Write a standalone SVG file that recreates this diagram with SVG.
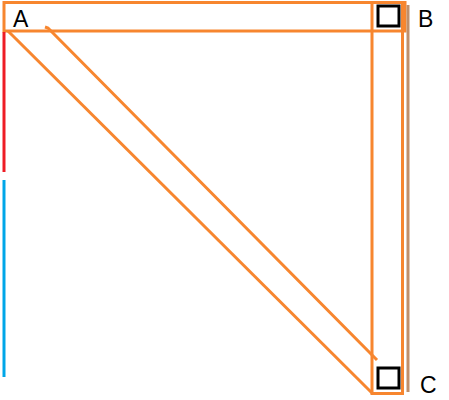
<svg xmlns="http://www.w3.org/2000/svg" width="449" height="400" viewBox="0 0 449 400">
<style>
.o{fill:none;stroke:#F7862F;stroke-width:3}
.sq{fill:none;stroke:#000;stroke-width:3}
.t{font-family:"Liberation Sans",Arial,sans-serif;font-size:23px;fill:#000}
</style>
<rect width="449" height="400" fill="#fff"/>
<g id="connectors">
<rect class="o" x="4" y="2.5" width="401" height="28.5"/>
<rect class="o" x="372" y="2.5" width="30.5" height="391"/>
<line x1="408" y1="5" x2="408" y2="392" stroke="#BF8F6B" stroke-width="3"/>
<path class="o" d="M8 31 L373 394"/>
<path class="o" d="M45 27 L48 28 L377 360"/>
<line x1="4" y1="32" x2="4" y2="172" stroke="#EE1C25" stroke-width="3"/>
<line x1="4" y1="180" x2="4" y2="377" stroke="#00A6E8" stroke-width="3"/>
</g>
<g id="A"><text class="t" x="13" y="27">A</text></g>
<g id="B"><rect class="sq" x="378" y="6" width="21" height="20"/><text class="t" x="418" y="27">B</text></g>
<g id="C"><rect class="sq" x="378" y="368" width="21" height="20"/><text class="t" x="420" y="393">C</text></g>
</svg>
